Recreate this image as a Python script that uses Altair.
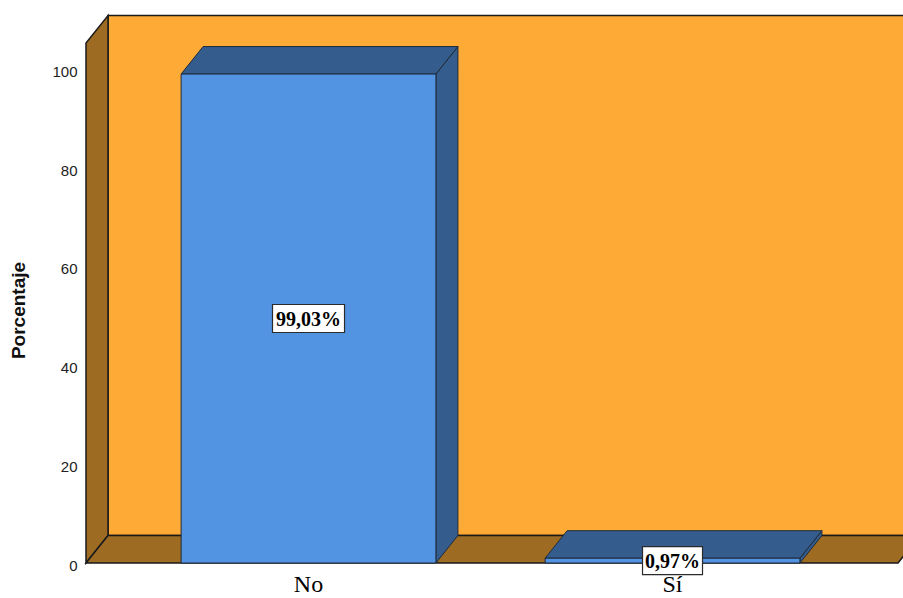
import altair as alt
import pandas as pd

# Data
categories = ["No", "Sí"]
percentages = [99.03, 0.97]
value_labels = ["99,03%", "0,97%"]
tick_values = [0, 20, 40, 60, 80, 100]

# Layout constants (data units)
PX_X = 364.0            # pixels per category slot
PLOT_W, PLOT_H = 817, 553
Y_MAX = 112.0
PX_Y = PLOT_H / Y_MAX   # pixels per percent
HALF = 0.35             # half bar width (slots)
DX = 22 / PX_X          # 3D depth offset along x
DY = 27.5 / PX_Y        # 3D depth offset along y
X_LEFT = -0.6113
X_RIGHT = 1.6195
WALL = 105.3
CAT_Y = -22 / PX_Y

ORANGE = "#FEAA36"
BROWN = "#9D6B22"
BAR_FRONT = "#5294E2"
BAR_DARK = "#345C8D"
EDGE = "#1a1a1a"
BAR_EDGE = "#1e2b3c"

x_scale = alt.Scale(domain=[X_LEFT, X_LEFT + PLOT_W / PX_X], nice=False, zero=False)
y_scale = alt.Scale(domain=[0, Y_MAX], nice=False, zero=False)
y_axis = alt.Axis(
    title="Porcentaje", values=tick_values, grid=False, domain=False, ticks=False,
    tickSize=0, labelPadding=9, labelOffset=2, labelFontSize=15,
    labelFont="Liberation Sans", labelColor="#222222",
    titleFont="Liberation Sans", titleFontSize=19, titleFontWeight="bold",
    titleColor="#111111", titleAngle=270, titleX=-68, titleY=300,
    titleAlign="center", titleBaseline="middle",
)

def X(field="x"):
    return alt.X(f"{field}:Q", scale=x_scale, axis=None)

def Y(field="y"):
    return alt.Y(f"{field}:Q", scale=y_scale, axis=y_axis)

# Back wall
wall_df = pd.DataFrame({"x": [X_LEFT + DX], "x2": [X_RIGHT + DX],
                        "y": [DY], "y2": [WALL + DY]})
back_wall = alt.Chart(wall_df).mark_rect(fill=ORANGE, stroke=EDGE, strokeWidth=1.5).encode(
    x=X(), x2="x2:Q", y=Y(), y2="y2:Q")

# Left side wall
side_df = pd.DataFrame({"x": [X_LEFT, X_LEFT + DX], "y": [0, DY], "y2": [WALL, WALL + DY]})
left_wall = alt.Chart(side_df).mark_area(fill=BROWN, stroke=EDGE, strokeWidth=1.5, opacity=1).encode(
    x=X(), y=Y(), y2="y2:Q")

# Floor
floor_df = pd.DataFrame({"y": [0, DY], "x": [X_LEFT, X_LEFT + DX], "x2": [X_RIGHT, X_RIGHT + DX]})
floor = alt.Chart(floor_df).mark_area(orient="horizontal", fill=BROWN, stroke=EDGE,
                                      strokeWidth=1.5, opacity=1).encode(
    y=Y(), x=X(), x2="x2:Q")

# Bars
rows_side, rows_top, rows_front, rows_lab = [], [], [], []
for i, (cat, v, lab) in enumerate(zip(categories, percentages, value_labels)):
    rows_side += [
        {"category": cat, "x": i + HALF, "y": 0, "y2": v},
        {"category": cat, "x": i + HALF + DX, "y": DY, "y2": v + DY},
    ]
    rows_top += [
        {"category": cat, "y": v, "x": i - HALF, "x2": i + HALF},
        {"category": cat, "y": v + DY, "x": i - HALF + DX, "x2": i + HALF + DX},
    ]
    rows_front.append({"category": cat, "x": i - HALF, "x2": i + HALF, "y": 0, "y2": v})
    half_w = (12 * len(lab)) / 2 / PX_X
    half_h = 14 / PX_Y
    rows_lab.append({"category": cat, "label": lab, "xc": i, "yc": v / 2,
                     "x": i - half_w, "x2": i + half_w,
                     "y": v / 2 - half_h, "y2": v / 2 + half_h, "cy": CAT_Y})

bar_side = alt.Chart(pd.DataFrame(rows_side)).mark_area(
    fill=BAR_DARK, stroke=BAR_EDGE, strokeWidth=1, opacity=1).encode(
    x=X(), y=Y(), y2="y2:Q", detail="category:N")

bar_top = alt.Chart(pd.DataFrame(rows_top)).mark_area(
    orient="horizontal", fill=BAR_DARK, stroke=BAR_EDGE, strokeWidth=1, opacity=1).encode(
    y=Y(), x=X(), x2="x2:Q", detail="category:N")

bar_front = alt.Chart(pd.DataFrame(rows_front)).mark_rect(
    fill=BAR_FRONT, stroke=BAR_EDGE, strokeWidth=1).encode(
    x=X(), x2="x2:Q", y=Y(), y2="y2:Q")

lab_df = pd.DataFrame(rows_lab)
label_box = alt.Chart(lab_df).mark_rect(fill="white", stroke="#2b2b2b", strokeWidth=1.2).encode(
    x=X(), x2="x2:Q", y=Y(), y2="y2:Q")

label_text = alt.Chart(lab_df).mark_text(
    font="Liberation Serif", fontSize=20, fontWeight="bold", color="black",
    align="center", baseline="middle", dy=1).encode(
    x=X("xc"), y=Y("yc"), text="label:N")

cat_text = alt.Chart(lab_df).mark_text(
    font="Liberation Serif", fontSize=24, color="black",
    align="center", baseline="middle").encode(
    x=X("xc"), y=Y("cy"), text="category:N")

chart = alt.layer(
    back_wall, left_wall, floor, bar_side, bar_top, bar_front, label_box, label_text, cat_text
).properties(
    width=PLOT_W, height=PLOT_H,
    autosize=alt.AutoSizeParams(type="none"),
    padding={"left": 86, "top": 10, "right": 0, "bottom": 35},
    background="white",
).configure_view(stroke=None)

chart.save("out.html", embed_options={"renderer": "svg", "actions": False})
